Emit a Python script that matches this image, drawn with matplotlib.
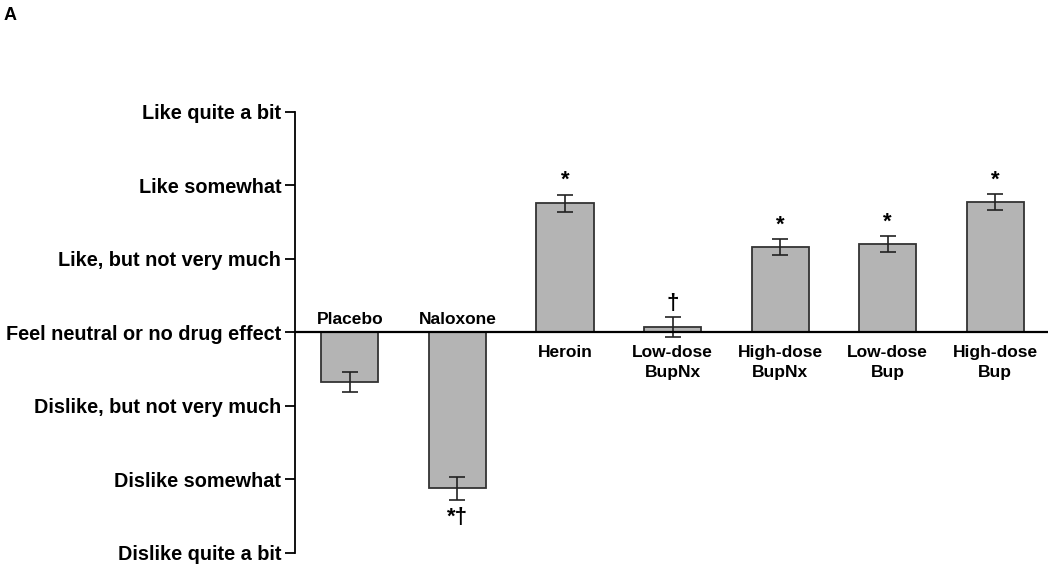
import matplotlib
matplotlib.use("Agg")
import matplotlib.pyplot as plt

categories = ["Placebo", "Naloxone", "Heroin", "Low-dose\nBupNx", "High-dose\nBupNx", "Low-dose\nBup", "High-dose\nBup"]
means = [-0.67, -2.12, 1.755, 0.07, 1.16, 1.20, 1.77]
errors = [0.136, 0.16, 0.122, 0.136, 0.11, 0.11, 0.11]
marks = ["", "*\u2020", "*", "\u2020", "*", "*", "*"]
ytick_vals = [-3, -2, -1, 0, 1, 2, 3]
ytick_labels = ["Dislike quite a bit", "Dislike somewhat", "Dislike, but not very much",
                "Feel neutral or no drug effect", "Like, but not very much",
                "Like somewhat", "Like quite a bit"]

plt.rcParams['font.family'] = ['Liberation Sans', 'DejaVu Sans']
fig = plt.figure(figsize=(10.5, 5.67), dpi=100)
ax = fig.add_axes([0.281, 0.0247, 0.717, 0.7778])

x = list(range(len(categories)))
ax.bar(x, means, width=0.53, color="#b4b4b4", edgecolor="#333333", linewidth=1.3, zorder=2)
ax.errorbar(x, means, yerr=errors, fmt="none", ecolor="#222222", elinewidth=1.2,
            capsize=6, capthick=1.2, zorder=3)
ax.axhline(0, color="black", linewidth=1.6, zorder=4)

ax.set_xlim(-0.51, 6.49)
ax.set_ylim(-3, 3)
ax.set_yticks(ytick_vals)
ax.set_yticklabels(ytick_labels, fontsize=14.3, fontweight="bold")
ax.tick_params(axis="y", direction="out", length=7, width=1.3, pad=3)
ax.set_xticks([])
for s in ["top", "right", "bottom"]:
    ax.spines[s].set_visible(False)
ax.spines["left"].set_linewidth(1.3)

for i, (m, e, lab, mk) in enumerate(zip(means, errors, categories, marks)):
    if m < 0:
        ax.text(i, 0.08, lab, ha="center", va="bottom", fontsize=12.5, fontweight="bold")
        if mk:
            ax.text(i, m - e - 0.1, mk, ha="center", va="top", fontsize=16, fontweight="bold")
    else:
        ax.text(i, -0.17, lab, ha="center", va="top", fontsize=12.5, fontweight="bold",
                linespacing=1.45)
        if mk:
            ax.text(i, m + e + 0.05, mk, ha="center", va="bottom", fontsize=16, fontweight="bold")

fig.text(0.003, 0.988, "A", fontsize=13, fontweight="bold", ha="left", va="top")

fig.savefig("out.png", dpi=100)
